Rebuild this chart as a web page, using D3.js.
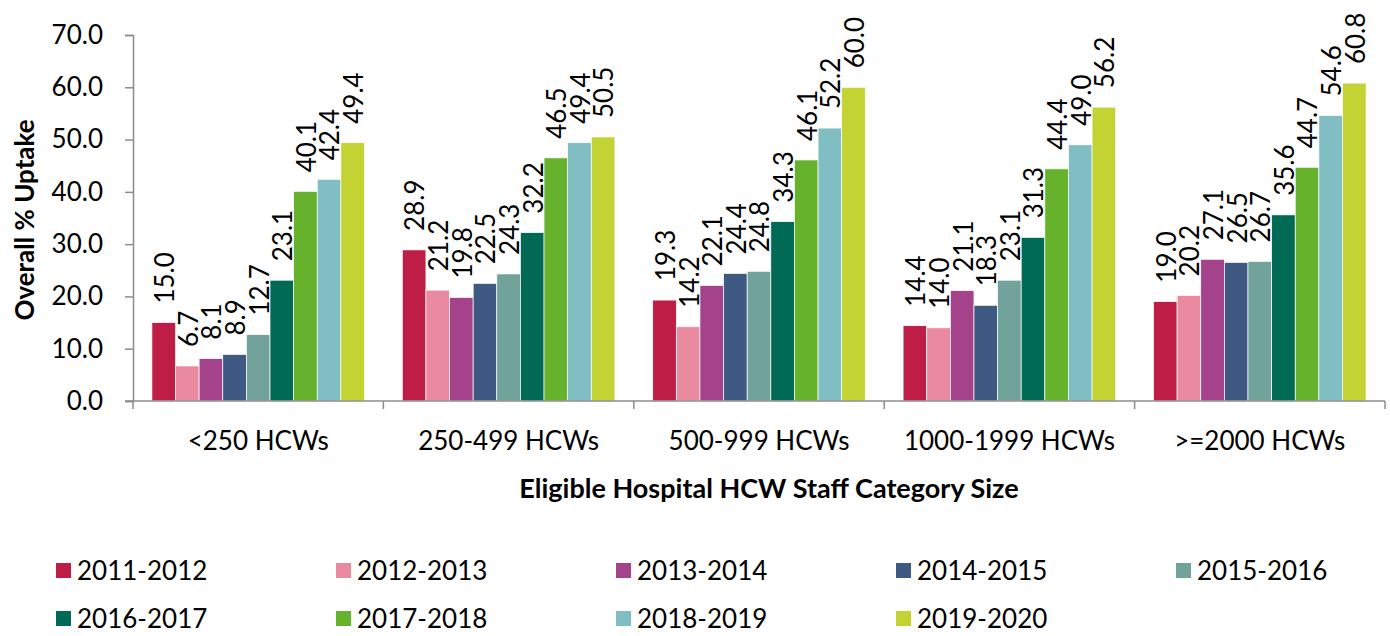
<!DOCTYPE html>
<html>
<head>
<meta charset="utf-8">
<script src="https://cdn.jsdelivr.net/npm/d3@7"></script>
<style>
  body { margin: 0; background: #fff; }
  svg text { font-family: Lato, "Open Sans", sans-serif; fill: #000; }
</style>
</head>
<body>
<svg id="chart" width="1390" height="636"></svg>
<script>
// categories along x
var categories = ["<250 HCWs", "250-499 HCWs", "500-999 HCWs", "1000-1999 HCWs", ">=2000 HCWs"];
var seasons    = ["2011-2012", "2012-2013", "2013-2014", "2014-2015", "2015-2016",
                  "2016-2017", "2017-2018", "2018-2019", "2019-2020"];
var colors     = ["#BE1E45", "#EA8AA0", "#A5428C", "#3E5A82", "#71A39A",
                  "#006A55", "#66B22C", "#80BEC4", "#C3D334"];

// one array per category, in season order
var v_lt250     = [15.0, 6.7, 8.1, 8.9, 12.7, 23.1, 40.1, 42.4, 49.4];
var v_250_499   = [28.9, 21.2, 19.8, 22.5, 24.3, 32.2, 46.5, 49.4, 50.5];
var v_500_999   = [19.3, 14.2, 22.1, 24.4, 24.8, 34.3, 46.1, 52.2, 60.0];
var v_1000_1999 = [14.4, 14.0, 21.1, 18.3, 23.1, 31.3, 44.4, 49.0, 56.2];
var v_ge2000    = [19.0, 20.2, 27.1, 26.5, 26.7, 35.6, 44.7, 54.6, 60.8];
var values = [v_lt250, v_250_499, v_500_999, v_1000_1999, v_ge2000];

var y_ticks = [0, 10, 20, 30, 40, 50, 60, 70];

var svg = d3.select("#chart");

// plot box (avoid the global "top", which is window.top)
var plot_left   = 133;
var plot_right  = 1385;
var plot_top    = 35;
var plot_bottom = 401;
var axis_color  = "#8c8c8c";

var x0 = d3.scaleBand().domain(categories).range([plot_left, plot_right]);
var x1 = d3.scaleBand().domain(seasons).range([0, x0.bandwidth()]).paddingOuter(0.8);
var y  = d3.scaleLinear().domain([0, 70]).range([plot_bottom, plot_top]);

// bars
var groups = svg.append("g").selectAll("g")
  .data(categories)
  .join("g")
  .attr("transform", function (d) { return "translate(" + x0(d) + ",0)"; });

groups.selectAll("rect")
  .data(function (d, i) { return values[i].map(function (v, j) { return {season: seasons[j], value: v, idx: j}; }); })
  .join("rect")
  .attr("x", function (d) { return x1(d.season); })
  .attr("y", function (d) { return y(d.value); })
  .attr("width", x1.bandwidth())
  .attr("height", function (d) { return plot_bottom - y(d.value); })
  .attr("fill", function (d) { return colors[d.idx]; })
  .attr("stroke", "#fff")
  .attr("stroke-width", 0.7);

// value labels, rotated
groups.selectAll("text")
  .data(function (d, i) { return values[i].map(function (v, j) { return {season: seasons[j], value: v}; }); })
  .join("text")
  .attr("transform", function (d) {
    return "translate(" + (x1(d.season) + x1.bandwidth() / 2 + 1) + "," + (y(d.value) - 19) + ") rotate(-90)";
  })
  .attr("dy", "0.36em")
  .style("font-size", "26px")
  .text(function (d) { return d3.format(".1f")(d.value); });

// y axis
var y_axis = d3.axisLeft(y).tickValues(y_ticks).tickFormat(d3.format(".1f")).tickSize(8).tickPadding(22);
var gy = svg.append("g").attr("transform", "translate(" + plot_left + ",0)").call(y_axis);
gy.select(".domain").attr("stroke", axis_color).attr("stroke-width", 1.5);
gy.selectAll(".tick line").attr("stroke", axis_color).attr("stroke-width", 1.5);
gy.selectAll(".tick text").style("font-size", "26px").style("font-family", "Lato, sans-serif").attr("fill", "#000");

// x axis line with boundary ticks
svg.append("line")
  .attr("x1", plot_left - 8).attr("x2", plot_right)
  .attr("y1", plot_bottom).attr("y2", plot_bottom)
  .attr("stroke", axis_color).attr("stroke-width", 1.5);

var boundaries = categories.map(function (c) { return x0(c); }).concat([plot_right]);
svg.append("g").selectAll("line")
  .data(boundaries)
  .join("line")
  .attr("x1", function (d) { return d; }).attr("x2", function (d) { return d; })
  .attr("y1", plot_bottom).attr("y2", plot_bottom + 8)
  .attr("stroke", axis_color).attr("stroke-width", 1.5);

svg.append("g").selectAll("text")
  .data(categories)
  .join("text")
  .attr("x", function (d) { return x0(d) + x0.bandwidth() / 2; })
  .attr("y", 450)
  .attr("text-anchor", "middle")
  .style("font-size", "26px")
  .text(function (d) { return d; });

// axis titles
svg.append("text")
  .attr("transform", "translate(34," + ((plot_top + plot_bottom) / 2 + 2) + ") rotate(-90)")
  .attr("text-anchor", "middle")
  .style("font-size", "26px")
  .style("font-weight", "bold")
  .text("Overall % Uptake");

svg.append("text")
  .attr("x", (plot_left + plot_right) / 2 + 10)
  .attr("y", 498)
  .attr("text-anchor", "middle")
  .style("font-size", "27px")
  .style("font-weight", "bold")
  .text("Eligible Hospital HCW Staff Category Size");

// legend
var legend = svg.append("g").selectAll("g")
  .data(seasons)
  .join("g")
  .attr("transform", function (d, i) {
    return "translate(" + (56 + (i % 5) * 280) + "," + (571 + Math.floor(i / 5) * 48) + ")";
  });

legend.append("rect")
  .attr("x", 0).attr("y", -8)
  .attr("width", 15).attr("height", 15)
  .attr("fill", function (d, i) { return colors[i]; });

legend.append("text")
  .attr("x", 21)
  .attr("dy", "0.36em")
  .style("font-size", "26px")
  .text(function (d) { return d; });
</script>
</body>
</html>
